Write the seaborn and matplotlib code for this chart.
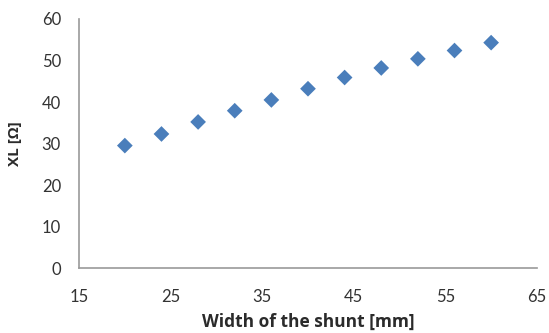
import matplotlib
matplotlib.use("Agg")
import matplotlib.pyplot as plt
import pandas as pd
import seaborn as sns

# data
width_mm = [20, 24, 28, 32, 36, 40, 44, 48, 52, 56, 60]
xl_ohm = [29.5, 32.3, 35.2, 37.9, 40.5, 43.2, 45.9, 48.2, 50.4, 52.4, 54.3]
x_ticks = [15, 25, 35, 45, 55, 65]
y_ticks = [0, 10, 20, 30, 40, 50, 60]

df = pd.DataFrame({'width': width_mm, 'xl': xl_ohm})

sns.set_style("white")
plt.rcParams['font.family'] = ['Lato', 'DejaVu Sans']

fig = plt.figure(figsize=(5.49, 3.33), dpi=100)
ax = fig.add_axes([0.144, 0.195, 0.834, 0.748])

sns.scatterplot(data=df, x='width', y='xl', marker='D', s=64,
                color='#4A7EBB', edgecolor='none', ax=ax)

ax.set_xlim(15, 65)
ax.set_ylim(0, 60)
ax.set_xticks(x_ticks)
ax.set_yticks(y_ticks)

for side in ['top', 'right']:
    ax.spines[side].set_visible(False)
for side in ['left', 'bottom']:
    ax.spines[side].set_color('#999999')
    ax.spines[side].set_linewidth(1.2)

ax.tick_params(axis='x', length=0, pad=15, labelsize=12, labelcolor='#333333')
ax.tick_params(axis='y', length=0, pad=13, labelsize=12, labelcolor='#333333')

lbl_font = ['Open Sans', 'DejaVu Sans']
ax.set_xlabel('Width of the shunt [mm]', fontsize=12.5, fontweight='bold',
              color='#2b2b2b', family=lbl_font)
ax.set_ylabel('XL [Ω]', fontsize=11, fontweight='bold',
              color='#2b2b2b', family=lbl_font)
ax.xaxis.set_label_coords(0.5, -0.18)
ax.yaxis.set_label_coords(-0.125, 0.5)

fig.savefig('out.png', dpi=100)
